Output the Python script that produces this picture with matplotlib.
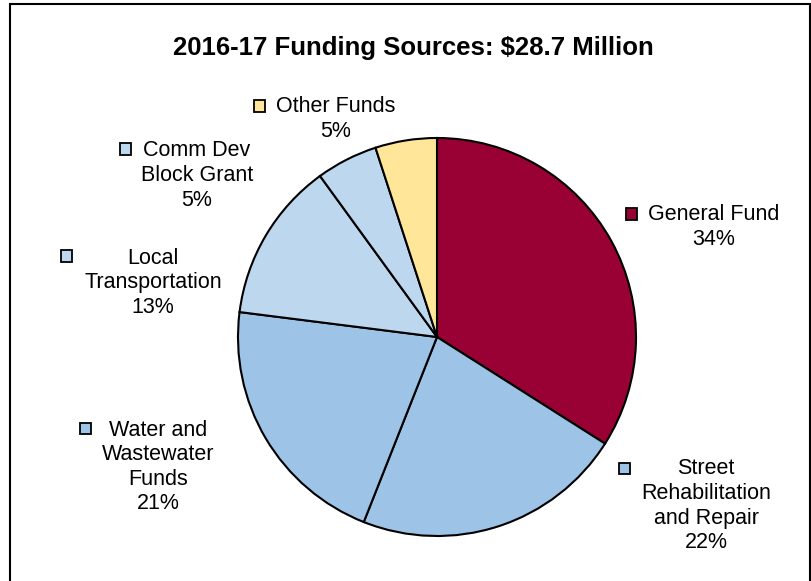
import matplotlib
matplotlib.use("Agg")
from matplotlib import pyplot as plt
from matplotlib.patches import Rectangle

plt.rcParams['font.family'] = ['Liberation Sans', 'DejaVu Sans']

# funding sources, clockwise from 12 o'clock
sources = ["General Fund", "Street\nRehabilitation\nand Repair", "Water and\nWastewater\nFunds",
           "Local\nTransportation", "Comm Dev\nBlock Grant", "Other Funds"]
shares = [34, 22, 21, 13, 5, 5]
colors = ["#990033", "#9DC3E6", "#9DC3E6", "#BDD7EE", "#BDD7EE", "#FFE699"]
title = "2016-17 Funding Sources: $28.7 Million"

W, H = 811, 581
# label layout in pixels: (legend key x, key y, text center x, first line y)
label_pos = [(631, 214, 714, 215),
             (624, 468, 706, 469),
             (85, 428, 158, 430),
             (66, 256, 153, 258),
             (125, 149, 197, 151),
             (259, 106, 336, 107)]
line_h = 24.6

fig = plt.figure(figsize=(W / 100, H / 100), dpi=100)

# pie centred at (437, 337) px with radius 201 px
cx, cy, r = 437, 337, 201
ax = fig.add_axes([(cx - r) / W, (H - cy - r) / H, 2 * r / W, 2 * r / H])
ax.pie(shares, colors=colors, startangle=90, counterclock=False,
       wedgeprops=dict(edgecolor="black", linewidth=1.5))
ax.set_xlim(-1.01, 1.01)
ax.set_ylim(-1.01, 1.01)
ax.axis("off")


def px(x, y):
    return x / W, 1 - y / H


fig.text(*px(413, 48), title, ha="center", va="center", fontsize=18.5, fontweight="bold")

for name, val, col, (kx, ky, tx, ty) in zip(sources, shares, colors, label_pos):
    lines = name.split("\n") + ["%d%%" % val]
    for i, line in enumerate(lines):
        fig.text(*px(tx, ty + i * line_h), line, ha="center", va="center", fontsize=15.5)
    fig.patches.append(Rectangle(px(kx - 5.5, ky + 5.5), 11 / W, 11 / H, transform=fig.transFigure,
                                 facecolor=col, edgecolor="black", linewidth=1.3))

# outer frame, open at the bottom edge
fig.patches.append(Rectangle(px(10, 590), 800 / W, 586 / H, transform=fig.transFigure,
                             facecolor="none", edgecolor="black", linewidth=1.5, clip_on=False))

fig.savefig("out.png", dpi=100)
